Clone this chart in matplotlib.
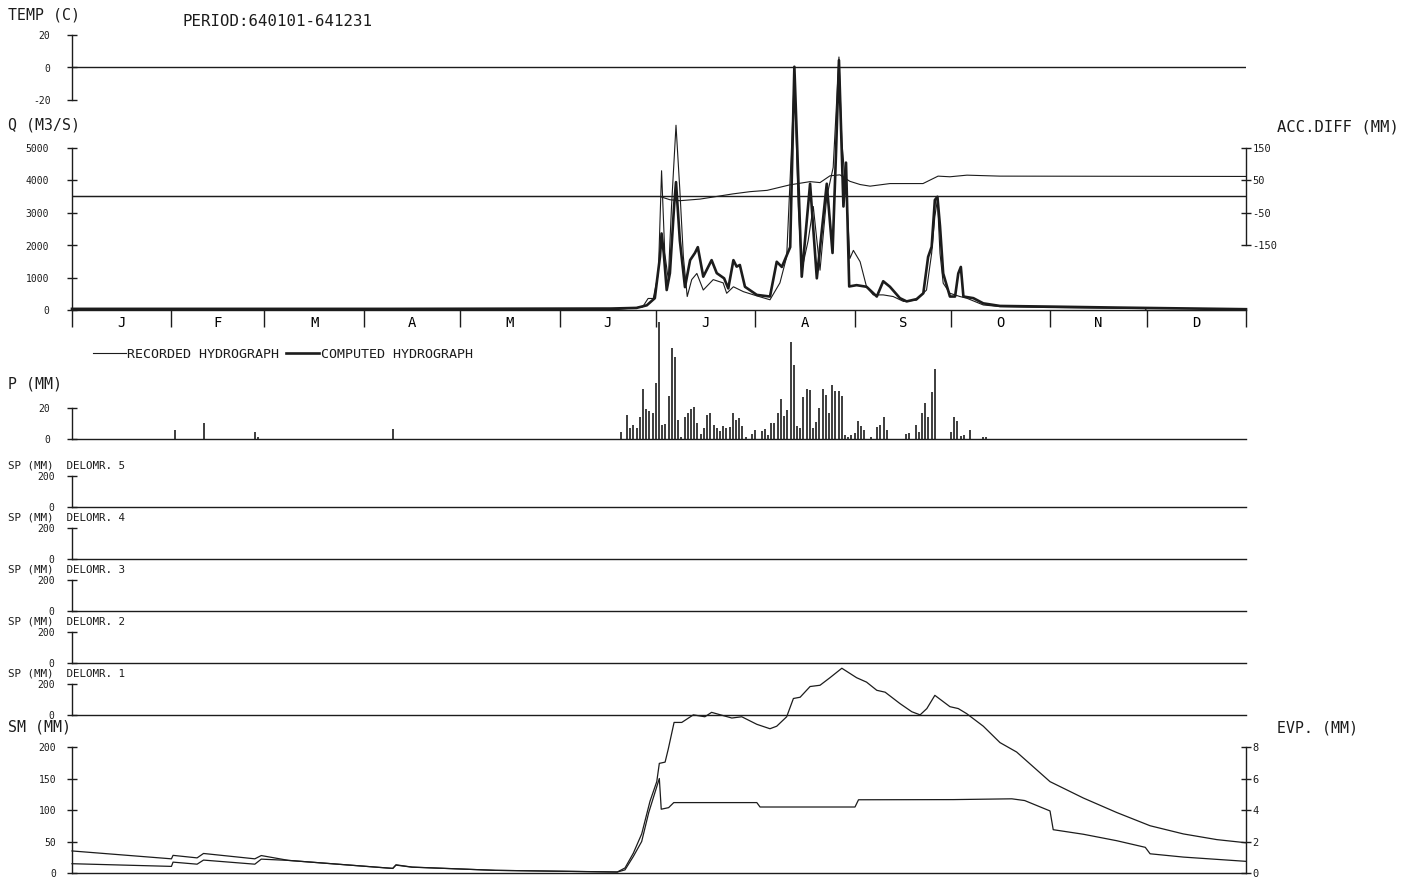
import numpy as np
import matplotlib
matplotlib.use("Agg")
import matplotlib.pyplot as plt
from matplotlib.lines import Line2D

W, H = 1413, 880
INK = '#1c1c1c'
FONT = 'DejaVu Sans Mono'
plt.rcParams['font.family'] = FONT
plt.rcParams['axes.unicode_minus'] = False

# calendar 1964 (leap year), day of year from 0
month_starts = [0, 31, 60, 91, 121, 152, 182, 213, 244, 274, 305, 335, 366]
month_names = ['J', 'F', 'M', 'A', 'M', 'J', 'J', 'A', 'S', 'O', 'N', 'D']

# temperature (C)
temp_days = [0, 366]
temp_vals = [0, 0]

# runoff, m3/s
q_comp_days = [0, 100, 168, 176.0, 179.2, 181.7, 183.3, 183.8, 184.5, 185.4, 186.4, 187.7, 188.3,
               189.5, 191.1, 192.7, 194.2, 195.1, 196.8, 199.4, 201.0, 203.3, 204.6, 206.2, 207.2,
               208.2, 209.8, 213.5, 217.6, 219.7, 221.3, 223.9, 225.2, 227.5, 230.1, 232.2, 235.3,
               237.1, 238.2, 239.1, 240.5, 241.3, 242.3, 244.6, 247.7, 250.9, 252.9, 255.0, 258.1,
               260.2, 263.3, 265.4, 266.9, 268.0, 269.0, 269.8, 270.6, 271.6, 273.7, 275.3, 276.3,
               277.1, 277.9, 281.0, 284.1, 289.3, 304.9, 325.7, 366]
q_comp = [50, 50, 60, 80, 160, 380, 1650, 2370, 1750, 630, 1150, 3200, 3950,
          2150, 720, 1550, 1770, 1950, 1040, 1550, 1150, 990, 680, 1550, 1350,
          1400, 730, 480, 430, 1500, 1340, 1950, 7500, 1040, 3900, 990, 3900,
          1770, 4900, 7700, 3200, 4550, 740, 780, 730, 430, 900, 730, 380,
          280, 350, 530, 1650, 1960, 3400, 3500, 2600, 1140, 430, 430, 1140,
          1340, 430, 380, 220, 140, 120, 90, 40]

q_rec_days = [0, 170, 177.9, 179.6, 181.2, 182.8, 183.8, 184.8, 185.9, 186.9, 188.3, 189.5, 190.6,
              191.8, 193.2, 194.8, 196.8, 199.9, 203.0, 204.1, 206.2, 209.3, 213.5, 217.6, 220.7,
              222.8, 224.4, 225.2, 226.4, 227.5, 229.5, 231.1, 233.2, 235.3, 237.3, 239.1, 240.0,
              241.5, 242.5, 243.6, 245.7, 247.7, 249.8, 252.9, 256.0, 259.2, 263.3, 266.4, 268.0,
              269.0, 269.8, 270.6, 271.6, 273.7, 276.8, 278.9, 284.1, 289.3, 304.9, 334.5, 335.0, 366]
q_rec = [20, 30, 110, 370, 370, 1140, 4300, 1760, 950, 3200, 5700, 3700, 1650,
         430, 950, 1140, 630, 950, 850, 530, 730, 580, 450, 330, 850,
         1650, 5200, 7300, 3200, 1240, 2150, 3200, 1240, 3500, 4400, 7800, 5200,
         3500, 1600, 1850, 1500, 730, 480, 480, 430, 280, 320, 630, 1760,
         2900, 3400, 1760, 840, 530, 430, 380, 170, 120, 90, 60, 0, 0]

# accumulated difference, mm
acc_days = [0, 182.4, 183.3, 186.4, 189.5, 195.8, 206.0, 211.4, 216.7, 223.8, 230.1, 233.2, 236.3,
            239.4, 242.5, 245.7, 248.8, 255.0, 265.3, 270.0, 273.7, 279.0, 289.3, 366]
acc_vals = [0, 0, 0, -10, -13, -8, 8, 15, 19, 36, 46, 43, 64,
            67, 47, 37, 32, 40, 40, 63, 61, 66, 63, 62]

# precipitation, mm/day
p_days = [32, 41, 57, 58, 100,
          171, 173, 174, 175, 176, 177, 178, 179, 180, 181, 182, 183, 184, 185, 186, 187, 188, 189,
          190, 191, 192, 193, 194, 195, 196, 197, 198, 199, 200, 201, 202, 203, 204, 205, 206, 207,
          208, 209, 210, 212, 213, 215, 216, 217, 218, 219, 220, 221, 222, 223, 224, 225, 226, 227,
          228, 229, 230, 231, 232, 233, 234, 235, 236, 237, 238, 239, 240, 241, 242, 243, 244, 245,
          246, 247, 249, 251, 252, 253, 254, 260, 261, 263, 264, 265, 266, 267, 268, 269,
          274, 275, 276, 277, 278, 280, 284, 285]
p_vals = [6, 10, 4.5, 1.5, 6.5,
          4.3, 15.5, 6.9, 9, 7, 14.4, 32, 19.4, 18, 17, 36, 75.7, 9, 9.6, 28, 59, 53, 12,
          1, 14.4, 17, 19.4, 20.4, 10, 3, 7, 15.8, 17, 9, 7, 5.4, 8.6, 7, 8, 16.8, 12,
          13.5, 8.4, 1, 3, 5.6, 5.2, 6.2, 2.6, 10, 10, 17, 26, 14.7, 18.4, 62.5, 47.5, 8.2, 7,
          27, 32, 31.6, 7, 11, 19.8, 32.5, 28.4, 17, 34.6, 31, 30.8, 28, 2.6, 1, 2.6, 4, 11.8,
          8.4, 5.8, 1, 7.5, 9, 14, 5.8, 3.2, 3.7, 9, 4.7, 17, 23, 14, 30.3, 45,
          4.7, 14, 11.8, 2, 2.6, 5.8, 1, 1]

# snow pack per elevation zone, mm
sp_days = [0, 366]
sp_zones = {5: [0, 0], 4: [0, 0], 3: [0, 0], 2: [0, 0], 1: [0, 0]}

# soil moisture, mm
sm_days = [0, 31, 31.5, 39, 41, 57, 59, 67.5, 100, 101, 106, 132, 170, 172.4, 175, 177.6, 180.2,
           182.3, 183.1, 184.9, 185.9, 187.7, 190.1, 193.7, 197.3, 199.4, 205.7, 208.8, 213.5,
           217.6, 219.7, 222.8, 224.9, 227.0, 230.1, 233.2, 236.3, 240.0, 244.6, 247.7, 250.9,
           253.5, 258.1, 261.8, 264.4, 266.5, 269.0, 273.7, 276.3, 278.9, 284.1, 289.3, 294.5,
           304.9, 315.3, 325.7, 336.1, 346.5, 356.9, 366]
sm_vals = [35, 22.5, 28, 24, 31, 22.5, 27.7, 20, 7.3, 13, 9.4, 4.2, 1.6, 8, 31.5, 62, 114,
           145, 174, 176, 197, 239, 239, 251, 248, 255, 246, 248, 236,
           229, 233, 248, 277, 279, 296, 298, 310, 325, 310, 303, 290,
           287, 269, 256, 251, 261, 282, 264, 261, 253, 233, 207, 192,
           145, 119, 96, 75, 62, 53, 48]

# evapotranspiration, mm/day
evp_days = [0, 31, 31.5, 39, 41, 57, 59, 67.5, 100, 101, 106, 132, 170, 172.4, 175, 177.6, 179.8,
            183.1, 183.7, 186.0, 187.6, 213.5, 214.5, 244.1, 245.2, 274.7, 293, 297, 304.9,
            305.9, 315.3, 325.7, 334.6, 336.1, 346.5, 366]
evp_vals = [0.59, 0.42, 0.69, 0.56, 0.82, 0.56, 0.88, 0.8, 0.29, 0.5, 0.37, 0.17, 0.06, 0.2,
            1.05, 2.0, 3.84, 6.0, 4.05, 4.15, 4.47, 4.47, 4.19, 4.19, 4.65, 4.66, 4.71, 4.6,
            3.94, 2.75, 2.46, 2.05, 1.63, 1.22, 1.01, 0.74]

fig = plt.figure(figsize=(W / 100, H / 100), dpi=100)
fig.patch.set_facecolor('white')


def panel(top, bottom, left=72, right=1246):
    ax = fig.add_axes([left / W, 1 - bottom / H, (right - left) / W, (bottom - top) / H])
    ax.set_facecolor('none')
    ax.set_xlim(0, 366)
    for s in ax.spines.values():
        s.set_visible(False)
        s.set_color(INK)
        s.set_linewidth(1.0)
    ax.tick_params(colors=INK, labelcolor=INK, direction='inout', length=7, width=1)
    ax.set_xticks([])
    return ax


def left_axis(ax, ticks, labels=None, pad=10, size=7):
    ax.spines['left'].set_visible(True)
    ax.set_yticks(ticks)
    if labels is not None:
        ax.set_yticklabels(labels)
    ax.tick_params(axis='y', pad=pad, labelsize=size)


def txt(x, y, s, size=8, **kw):
    fig.text(x / W, 1 - y / H, s, fontsize=size, color=INK, va='center', **kw)


##temperature
ax_t = panel(35, 100)
ax_t.set_ylim(-20, 20)
left_axis(ax_t, [-20, 0, 20], pad=12)
ax_t.plot(temp_days, temp_vals, color=INK, lw=1.0)
txt(8, 15, 'TEMP (C)', 10.7)
txt(182, 22, 'PERIOD:640101-641231', 11.3)

##runoff
ax_q = panel(148, 310.5)
ax_q.set_ylim(0, 5000)
left_axis(ax_q, [0, 1000, 2000, 3000, 4000, 5000], pad=13)
ax_q.spines['bottom'].set_visible(True)
ax_q.set_xticks(month_starts)
ax_q.set_xticklabels([])
ax_q.tick_params(axis='x', which='major', direction='out', length=12, width=1)
mids = [(a + b) / 2 for a, b in zip(month_starts[:-1], month_starts[1:])]
ax_q.set_xticks(mids, minor=True)
ax_q.set_xticklabels(month_names, minor=True)
ax_q.tick_params(axis='x', which='minor', length=0, pad=4, labelsize=10)
ax_q.plot(q_rec_days, q_rec, color=INK, lw=0.8, clip_on=False)
ax_q.plot(q_comp_days, q_comp, color=INK, lw=1.9, clip_on=False)
txt(8, 125, 'Q (M3/S)', 10.7)

##accumulated difference on the right
ax_a = panel(148, 245)
ax_a.set_ylim(-150, 150)
ax_a.spines['right'].set_visible(True)
ax_a.yaxis.tick_right()
ax_a.set_yticks([-150, -50, 50, 150])
ax_a.tick_params(axis='y', pad=1, labelsize=7.5)
ax_a.axhline(0, color=INK, lw=1.0)
ax_a.plot(acc_days, acc_vals, color=INK, lw=0.8)
txt(1277, 127, 'ACC.DIFF (MM)', 11.2)

##legend
handles = [Line2D([], [], color=INK, lw=0.8), Line2D([], [], color=INK, lw=1.9)]
fig.legend(handles, ['RECORDED HYDROGRAPH', 'COMPUTED HYDROGRAPH'], ncol=2, frameon=False,
           loc='center left', bbox_to_anchor=(86 / W, 1 - 354 / H), borderpad=0,
           handlelength=2.5, handletextpad=0.1, columnspacing=0.5,
           prop={'family': FONT, 'size': 9.6}, labelcolor=INK)

##precipitation
ax_p = panel(408, 439)
ax_p.set_ylim(0, 20)
left_axis(ax_p, [0, 20], pad=12)
ax_p.spines['bottom'].set_visible(True)
ax_p.vlines(p_days, 0, p_vals, color=INK, lw=1.2, clip_on=False)
txt(8, 384, 'P (MM)', 10.7)

##snow pack, zones 5..1
for i, zone in enumerate([5, 4, 3, 2, 1]):
    top = 476 + 52 * i
    ax_s = panel(top, top + 31)
    ax_s.set_ylim(0, 200)
    left_axis(ax_s, [0, 200], pad=9)
    ax_s.plot(sp_days, sp_zones[zone], color=INK, lw=1.0, clip_on=False)
    txt(8, top - 11, 'SP (MM)  DELOMR. %d' % zone, 7.8)

##soil moisture and evapotranspiration
ax_sm = panel(747, 873)
ax_sm.set_ylim(0, 200)
left_axis(ax_sm, [0, 50, 100, 150, 200], pad=8)
ax_sm.spines['bottom'].set_visible(True)
ax_sm.plot(sm_days, sm_vals, color=INK, lw=0.9, clip_on=False)
txt(8, 727, 'SM (MM)', 10.7)

ax_e = panel(747, 873)
ax_e.set_ylim(0, 8)
ax_e.spines['right'].set_visible(True)
ax_e.yaxis.tick_right()
ax_e.set_yticks([0, 2, 4, 6, 8])
ax_e.tick_params(axis='y', pad=1, labelsize=7.5)
ax_e.plot(evp_days, evp_vals, color=INK, lw=0.9, clip_on=False)
txt(1277, 728, 'EVP. (MM)', 10.7)

fig.savefig('out.png', dpi=100, facecolor='white')
